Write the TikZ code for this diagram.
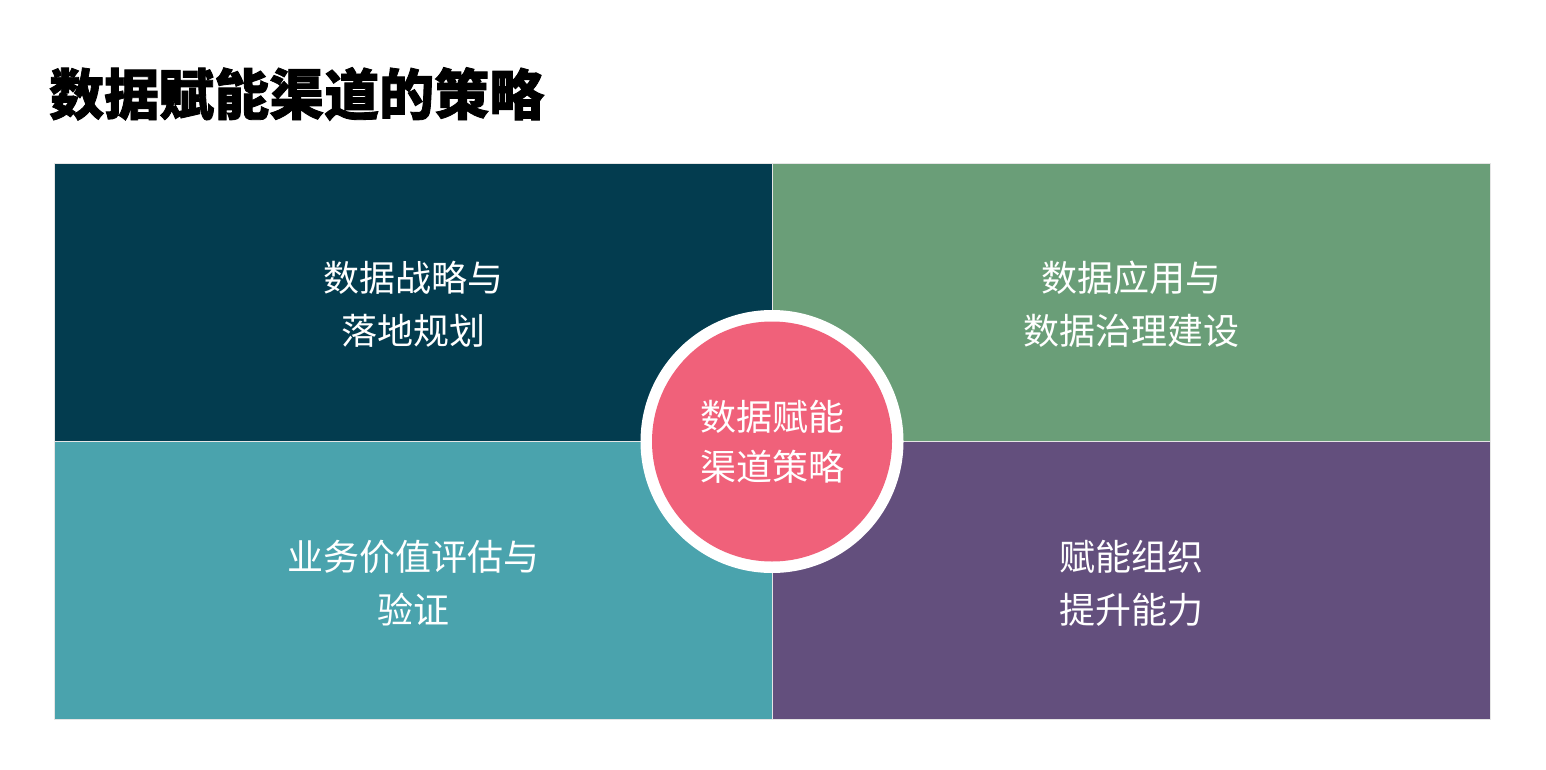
\documentclass[tikz,border=0pt]{standalone}
\usepackage{fontspec}
\newfontfamily\cjk{Noto Sans CJK SC}
\newfontfamily\cjktitle{Noto Sans CJK SC}[BoldFeatures={FakeBold=1.5}]
\definecolor{qdark}{HTML}{033C4F}
\definecolor{qgreen}{HTML}{6A9E78}
\definecolor{qteal}{HTML}{4AA3AD}
\definecolor{qpurple}{HTML}{634F7D}
\definecolor{qpink}{HTML}{F0617A}
\tikzset{
  tile/.style={draw=white!80!gray, line width=0.8pt},
  tiletext/.style={text=white, font=\cjk\fontsize{36}{53}\selectfont, align=center},
}
\begin{document}
\begin{tikzpicture}[x=1pt,y=-1pt]
\useasboundingbox (0,0) rectangle (1546,770);
\fill[white] (0,0) rectangle (1546,770);
\node[anchor=west, inner sep=0pt, font=\cjktitle\bfseries\fontsize{55}{55}\selectfont] (title) at (49,94) {数据赋能渠道的策略};
\draw[tile, fill=qdark] (54,163) rectangle (772,441);
\draw[tile, fill=qgreen] (772,163) rectangle (1490,441);
\draw[tile, fill=qteal] (54,441) rectangle (772,719);
\draw[tile, fill=qpurple] (772,441) rectangle (1490,719);
\node[tiletext] (tl) at (413,304) {数据战略与\\落地规划};
\node[tiletext] (tr) at (1131,304) {数据应用与\\数据治理建设};
\node[tiletext] (bl) at (413,583) {业务价值评估与\\验证};
\node[tiletext] (br) at (1131,583) {赋能组织\\提升能力};
\node[circle, fill=white, minimum size=263pt, inner sep=0pt] (ring) at (772,441.5) {};
\node[circle, fill=qpink, minimum size=240pt, inner sep=0pt, text=white, align=center,
  font=\cjk\fontsize{36}{50}\selectfont] (center) at (772,441.5) {数据赋能\\渠道策略};
\end{tikzpicture}
\end{document}
